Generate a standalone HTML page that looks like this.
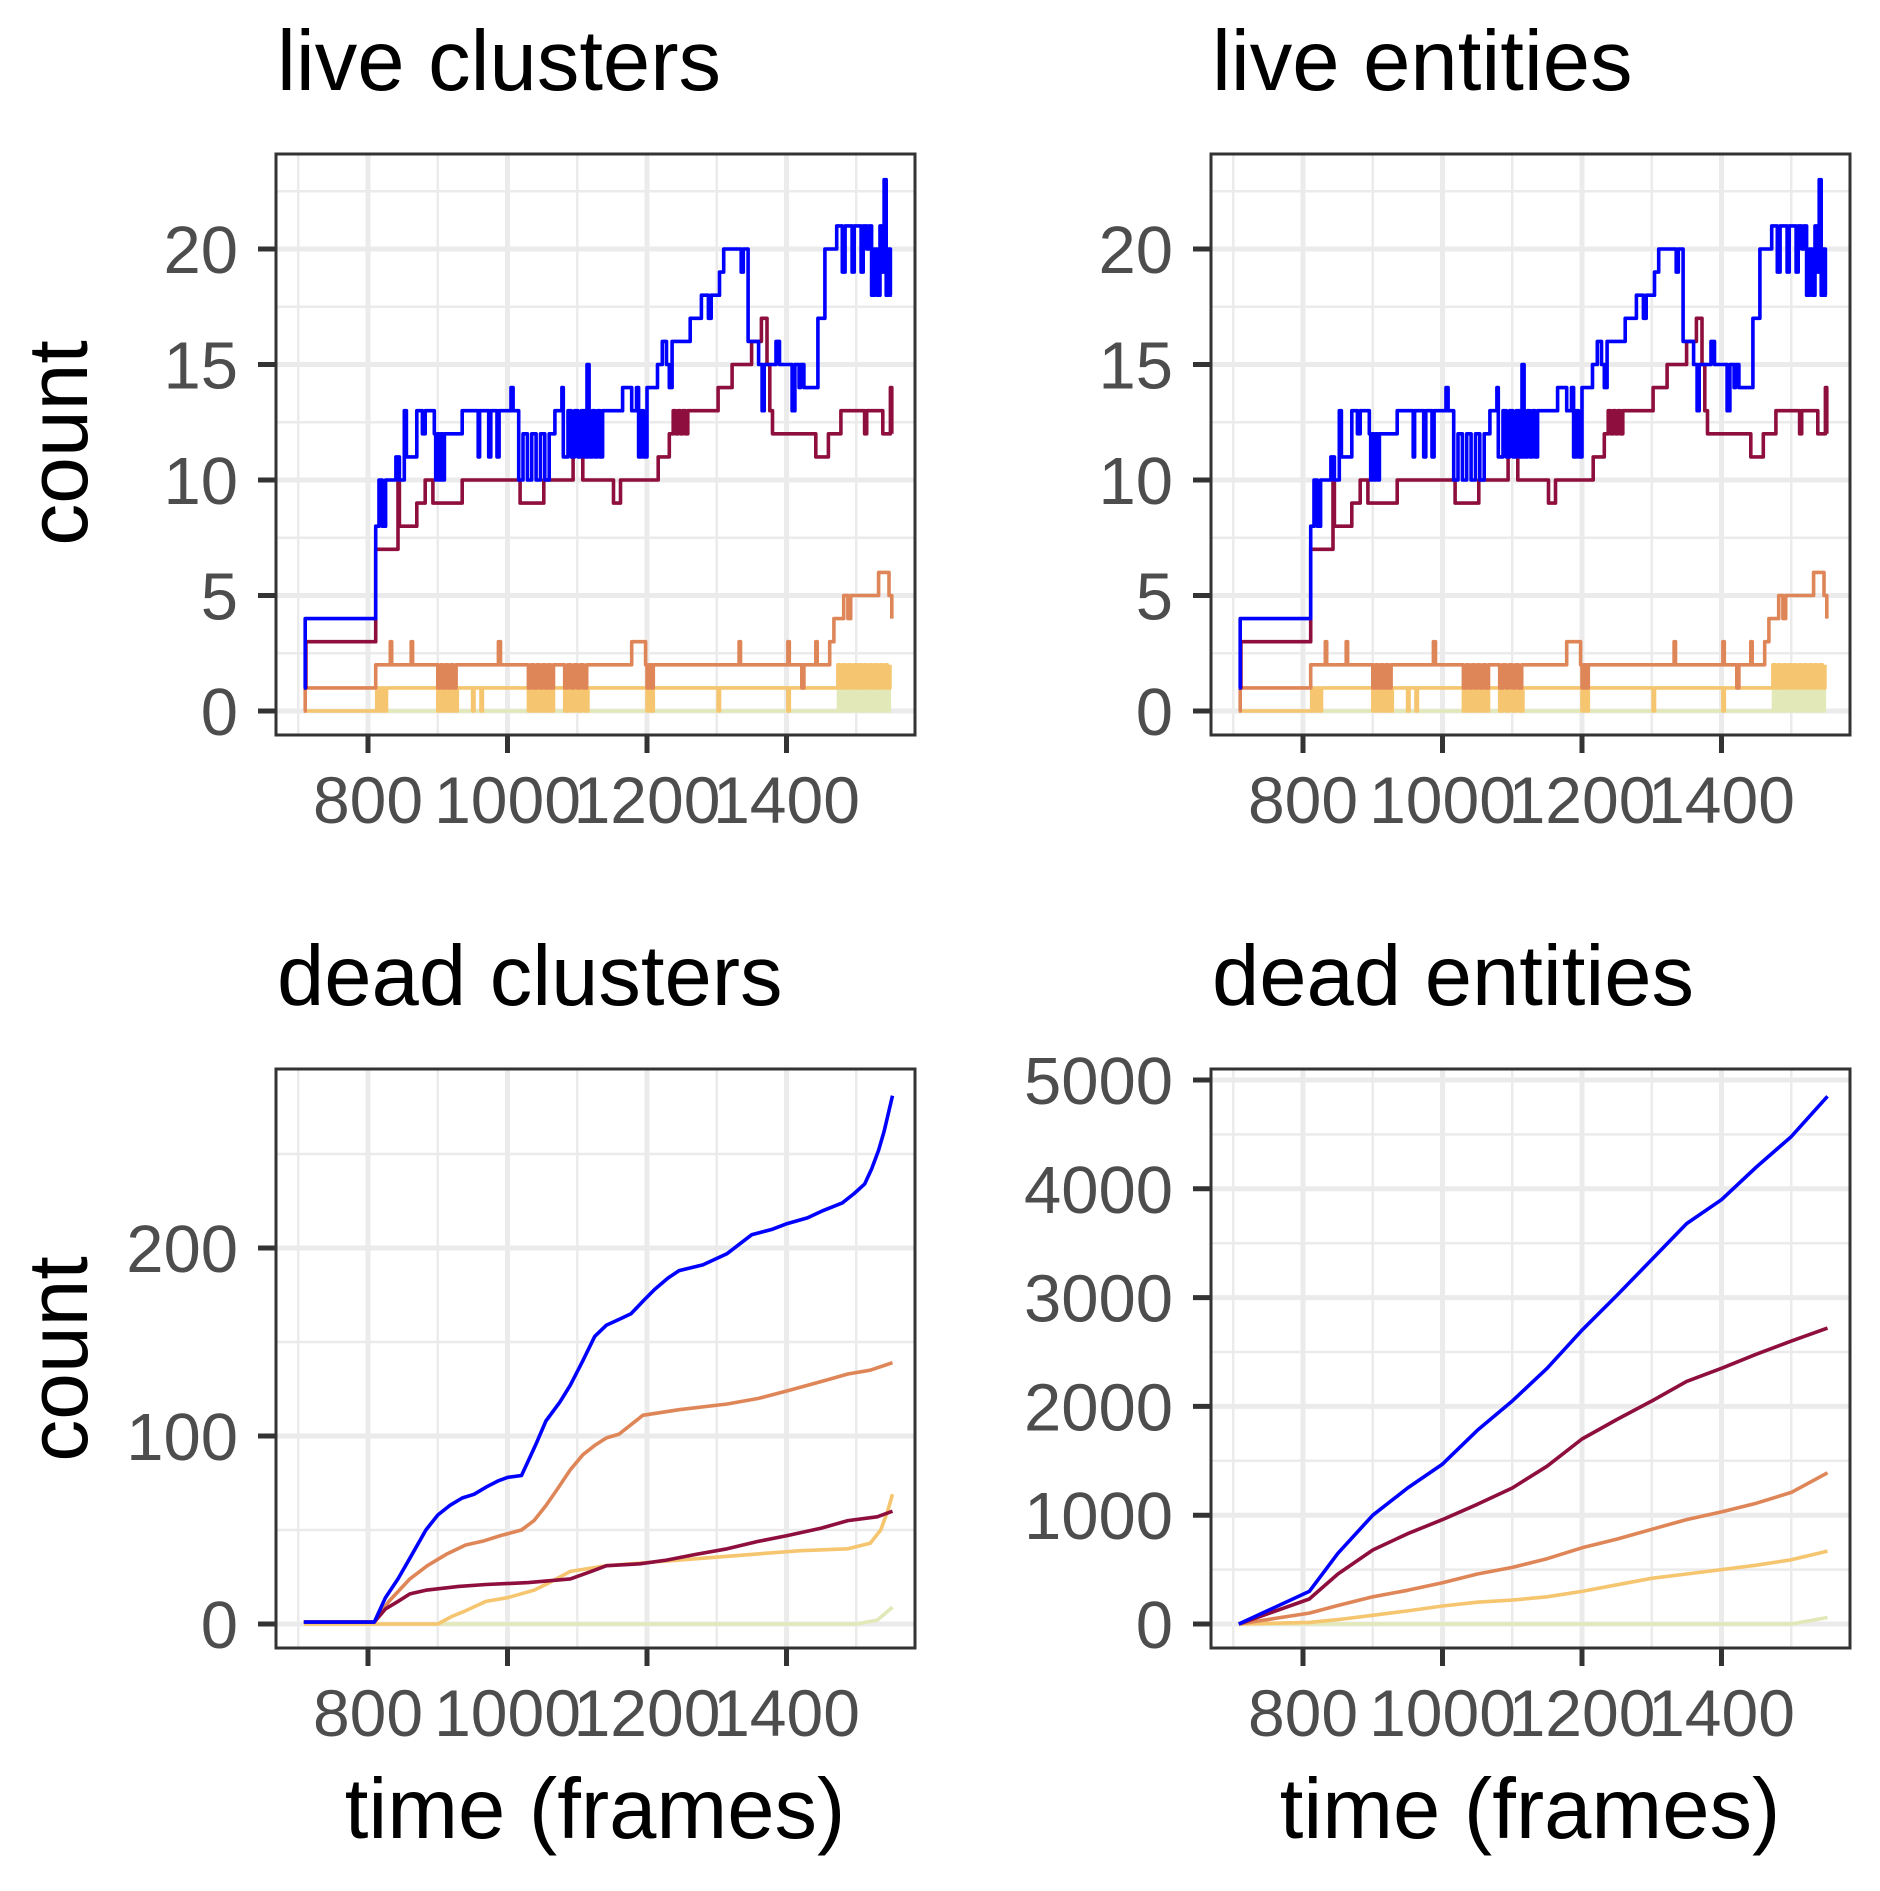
<!DOCTYPE html>
<html><head><meta charset="utf-8">
<style>
html,body{margin:0;padding:0;background:#fff;}
svg{display:block;}
text{font-family:"Liberation Sans",Arial,sans-serif;}
</style></head>
<body>
<svg id="s" width="1880" height="1891" viewBox="0 0 1880 1891" xmlns="http://www.w3.org/2000/svg"></svg>
<script>
const S=document.getElementById('s');
let out='';
const PX0=368, PPF=0.6975;
function fx(f,off){return off+PX0+(f-800)*PPF;}
function panel(off,top,bot,y0,ppu,majors,minors,labels,data,title){
  const L=276+off,R=915+off;
  out+=`<clipPath id="c${off}_${top}"><rect x="${L}" y="${top}" width="${R-L}" height="${bot-top}"/></clipPath>`;
  for(const m of minors){const y=y0-m*ppu;out+=`<line x1="${L}" x2="${R}" y1="${y}" y2="${y}" stroke="#ebebeb" stroke-width="2.5"/>`;}
  for(const f of [700,900,1100,1300,1500]){const x=fx(f,off);out+=`<line x1="${x}" x2="${x}" y1="${top}" y2="${bot}" stroke="#ebebeb" stroke-width="2.5"/>`;}
  for(const m of majors){const y=y0-m*ppu;out+=`<line x1="${L}" x2="${R}" y1="${y}" y2="${y}" stroke="#ebebeb" stroke-width="5"/>`;}
  for(const f of [800,1000,1200,1400]){const x=fx(f,off);out+=`<line x1="${x}" x2="${x}" y1="${top}" y2="${bot}" stroke="#ebebeb" stroke-width="5"/>`;}
  out+=`<g clip-path="url(#c${off}_${top})">`;
  for(const [col,pts] of data){
    let d='';pts.forEach((p,i)=>{d+=(i?'L':'M')+fx(p[0],off).toFixed(1)+' '+(y0-p[1]*ppu).toFixed(1);});
    out+=`<path d="${d}" fill="none" stroke="${col}" stroke-width="3.6" stroke-linejoin="round"/>`;
  }
  out+='</g>';
  out+=`<rect x="${L}" y="${top}" width="${R-L}" height="${bot-top}" fill="none" stroke="#333" stroke-width="3"/>`;
  majors.forEach((m,i)=>{const y=y0-m*ppu;out+=`<line x1="${L-18}" x2="${L}" y1="${y}" y2="${y}" stroke="#333" stroke-width="5"/>`;
    out+=`<text x="${L-38}" y="${y+24}" font-size="67" fill="#4d4d4d" text-anchor="end">${labels[i]}</text>`;});
  for(const f of [800,1000,1200,1400]){const x=fx(f,off);out+=`<line x1="${x}" x2="${x}" y1="${bot}" y2="${bot+18}" stroke="#333" stroke-width="5"/>`;
    out+=`<text x="${x}" y="${bot+88}" font-size="66" fill="#4d4d4d" text-anchor="middle">${f}</text>`;}
  out+=`<text x="${L+1}" y="${top-64}" font-size="85" fill="#000">${title}</text>`;
}
function step(segs){
  const p=[];let prev=null;
  for(const [f,v] of segs){ if(prev!==null) p.push([f,prev]); p.push([f,v]); prev=v;}
  return p;
}
function jit(arr,f0,f1,a,b,n){
  const w=(f1-f0)/n;
  for(let i=0;i<n;i++){arr.push([f0+i*w,i%2?b:a]);}
}
let B=[[708,1],[710,4],[809,4],[811,7]];jit(B,811,830,8,10,4);B.push([830,10],[840,11],[845,10],[852,13],[855,11],[868,11],[870,13],[878,12],[882,13],[895,12]);jit(B,897,912,10,12,6);
B.push([912,12],[930,12],[935,13],[955,13],[958,11],[960,13],[970,13],[973,11],[976,13],[980,13],[985,11],[988,13],[1000,13],[1005,14],[1008,13],[1016,13]);
jit(B,1016,1066,10,12,8);B.push([1068,13],[1075,13],[1078,14],[1080,11]);jit(B,1082,1120,11,13,8);B.push([1114,15],[1117,12]);jit(B,1118,1140,11,13,6);
B.push([1140,13],[1160,13],[1165,14],[1175,14],[1178,13],[1185,14],[1188,11],[1192,13],[1195,11],[1200,14],[1215,15],[1222,16],[1228,15],[1232,14],[1236,16],[1258,16],[1262,17],[1275,17],[1278,18],[1288,17],[1292,18],[1300,18],[1304,19],[1310,20],[1330,20],[1335,19],[1338,20],[1345,16],[1360,15],[1365,13],[1368,15],[1382,15],[1385,16],[1390,15],[1405,15],[1408,13],[1412,15],[1418,14],[1420,15],[1425,14],[1440,14],[1445,17],[1450,17],[1455,20],[1470,20],[1472,21]);
B.push([1478,21],[1480,19],[1484,21],[1492,21],[1494,19],[1497,21],[1505,21],[1507,19],[1510,21],[1515,20],[1518,21],[1522,18],[1526,20],[1530,18],[1534,21],[1537,19],[1540,23],[1543,18],[1546,20],[1549,18],[1551,18]);
let C=[[708,1],[711,3],[809,3],[811,7],[840,7],[843,10],[845,8],[868,8],[870,9],[878,9],[882,10],[890,10],[893,9],[912,9],[930,9],[935,10],[1016,10],[1018,9],[1050,9],[1052,10],[1090,10],[1094,12],[1105,12],[1108,10],[1150,10],[1152,9],[1160,9],[1162,10],[1212,10],[1216,11],[1228,11],[1232,12]];
jit(C,1234,1262,12,13,8);C.push([1262,13],[1298,13],[1302,14],[1318,14],[1322,15],[1345,15],[1350,16],[1360,16],[1364,17],[1372,15],[1376,13],[1380,12],[1440,12],[1442,11],[1458,11],[1460,12],[1475,12],[1478,13],[1510,13],[1512,12],[1515,13],[1535,13],[1538,12],[1546,12],[1549,14],[1551,12]);
let O=[[708,0],[710,1],[809,1],[811,2],[830,2],[832,3],[834,2],[860,2],[862,3],[864,2],[900,2]];jit(O,900,930,1,2,8);O.push([930,2],[985,2],[987,3],[990,2],[1030,2]);jit(O,1030,1070,1,2,10);O.push([1070,2],[1080,2]);jit(O,1082,1118,1,2,8);
O.push([1118,2],[1175,2],[1178,3],[1195,3],[1198,2]);jit(O,1200,1212,1,2,4);O.push([1212,2],[1330,2],[1332,3],[1334,2],[1400,2],[1402,3],[1404,2],[1420,2],[1422,1],[1425,2],[1440,2],[1442,3],[1444,2],[1458,2],[1462,3],[1468,4],[1478,4],[1482,5],[1488,4],[1492,5],[1530,5],[1532,6],[1545,6],[1547,5],[1551,4]);
let Y=[[708,0],[809,0]];jit(Y,809,830,0,1,6);Y.push([830,1],[900,1]);jit(Y,900,932,0,1,8);Y.push([932,1],[948,1],[950,0],[952,1],[960,1],[962,0],[964,1],[1030,1]);jit(Y,1030,1070,0,1,10);Y.push([1070,1],[1082,1]);jit(Y,1082,1120,0,1,8);
Y.push([1120,1],[1200,1]);jit(Y,1200,1212,0,1,4);Y.push([1212,1],[1300,1],[1302,0],[1304,1],[1400,1],[1402,0],[1404,1],[1470,1]);jit(Y,1470,1552,1,2,22);
let G=[[708,0],[1470,0]];jit(G,1470,1552,0,1,18);
const liveData=[['#e2e8b8',step(G)],['#f5c56f',step(Y)],['#df8658',step(O)],['#8e0f3d',step(C)],['#0000ff',step(B)]];
panel(0,154,735,711,23.1,[0,5,10,15,20],[2.5,7.5,12.5,17.5,22.5],['0','5','10','15','20'],liveData,'live clusters');
panel(935,154,735,711,23.1,[0,5,10,15,20],[2.5,7.5,12.5,17.5,22.5],['0','5','10','15','20'],liveData,'live entities');
const dcB=[[708,1],[809,1],[825,14],[843,24],[860,35],[883,50],[900,58],[917,63],[935,67],[952,69],[970,73],[986,76],[1000,78],[1020,79],[1040,95],[1055,108],[1075,118],[1090,127],[1108,140],[1125,153],[1142,159],[1160,162],[1177,165],[1195,172],[1211,178],[1230,184],[1246,188],[1280,191],[1315,197],[1350,207],[1380,210],[1401,213],[1430,216],[1453,220],[1480,224],[1497,229],[1512,234],[1522,242],[1532,252],[1540,262],[1552,281]];
const dcC=[[708,1],[809,1],[825,8],[843,12],[860,16],[883,18],[930,20],[969,21],[1030,22],[1090,24],[1120,28],[1142,31],[1190,32],[1228,34],[1270,37],[1315,40],[1360,44],[1401,47],[1450,51],[1488,55],[1530,57],[1552,60]];
const dcO=[[708,1],[809,1],[830,12],[860,24],[885,31],[912,37],[940,42],[964,44],[990,47],[1020,50],[1038,55],[1055,63],[1072,72],[1090,82],[1108,90],[1125,95],[1142,99],[1160,101],[1177,106],[1194,111],[1246,114],[1315,117],[1360,120],[1401,124],[1450,129],[1488,133],[1520,135],[1552,139]];
const dcY=[[708,0],[900,0],[920,4],[940,7],[969,12],[1000,14],[1038,18],[1060,22],[1090,28],[1142,31],[1246,34],[1350,37],[1420,39],[1488,40],[1520,43],[1535,50],[1545,60],[1552,69]];
const dcG=[[708,0],[1500,0],[1530,2],[1552,9]];
panel(0,1069,1648,1624,1.88,[0,100,200],[50,150,250],['0','100','200'],[['#e2e8b8',dcG],['#f5c56f',dcY],['#df8658',dcO],['#8e0f3d',dcC],['#0000ff',dcB]],'dead clusters');
const deB=[[708,0],[809,300],[850,650],[900,1000],[950,1250],[1000,1470],[1050,1780],[1100,2050],[1150,2350],[1200,2700],[1250,3020],[1300,3350],[1350,3680],[1400,3900],[1450,4200],[1500,4480],[1552,4850]];
const deC=[[708,0],[809,230],[850,460],[900,680],[950,830],[1000,960],[1050,1100],[1100,1250],[1150,1450],[1200,1700],[1250,1880],[1300,2050],[1350,2230],[1400,2350],[1450,2480],[1500,2600],[1552,2720]];
const deO=[[708,0],[809,100],[850,170],[900,250],[950,310],[1000,380],[1050,460],[1100,520],[1150,600],[1200,700],[1250,780],[1300,870],[1350,960],[1400,1030],[1450,1110],[1500,1210],[1552,1390]];
const deY=[[708,0],[809,15],[850,40],[900,80],[950,120],[1000,165],[1050,200],[1100,220],[1150,250],[1200,300],[1250,360],[1300,420],[1350,460],[1400,500],[1450,540],[1500,590],[1552,670]];
const deG=[[708,0],[1500,0],[1552,60]];
panel(935,1069,1648,1624,0.1088,[0,1000,2000,3000,4000,5000],[500,1500,2500,3500,4500],['0','1000','2000','3000','4000','5000'],[['#e2e8b8',deG],['#f5c56f',deY],['#df8658',deO],['#8e0f3d',deC],['#0000ff',deB]],'dead entities');
out+=`<text transform="translate(87,443) rotate(-90)" font-size="84" text-anchor="middle" fill="#000">count</text>`;
out+=`<text transform="translate(87,1359) rotate(-90)" font-size="84" text-anchor="middle" fill="#000">count</text>`;
out+=`<text x="595" y="1838" font-size="85" text-anchor="middle" fill="#000">time (frames)</text>`;
out+=`<text x="1530" y="1838" font-size="85" text-anchor="middle" fill="#000">time (frames)</text>`;
S.innerHTML=out;
</script>
</body></html>
